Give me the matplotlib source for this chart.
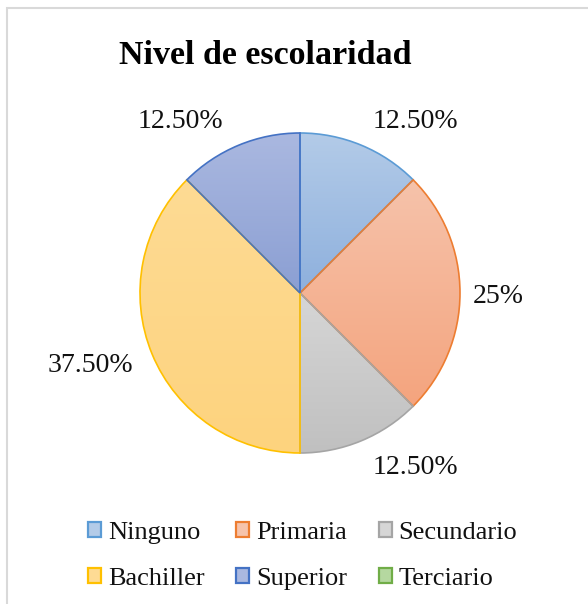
import numpy as np
import matplotlib
matplotlib.use('Agg')
from matplotlib import pyplot as plt
from matplotlib.patches import Patch, Rectangle
from matplotlib.colors import LinearSegmentedColormap

plt.rcParams['font.family'] = ['Liberation Serif', 'DejaVu Serif']

# data
categories = ['Ninguno', 'Primaria', 'Secundario', 'Bachiller', 'Superior', 'Terciario']
values = [12.5, 25, 12.5, 37.5, 12.5, 0]
value_labels = ['12.50%', '25%', '12.50%', '37.50%', '12.50%', '']

# styles (light top, darker bottom, outline)
grad_top = ['#b3cbe8', '#f6c3ab', '#d6d6d6', '#fedb94', '#aab8e0', '#b5d8a0']
grad_bot = ['#8eb0dd', '#f4a47e', '#c0c0c0', '#fdd37e', '#8b9fd3', '#9ccb80']
edges = ['#5b9bd5', '#ed7d31', '#a5a5a5', '#ffc000', '#4472c4', '#70ad47']

# where the value labels sit (pie radius = 1)
label_xy = [(0.72, 1.075), (1.24, -0.02), (0.72, -1.09), (-1.31, -0.45), (-0.75, 1.075), (0, 0)]

W, H, R = 588, 604, 160
cx, cy = 300, 604 - 293

fig = plt.figure(figsize=(W / 100, H / 100), dpi=100)
ax = fig.add_axes([0, 0, 1, 1])
ax.axis('off')

wedges, _ = ax.pie(values, startangle=90, counterclock=False, radius=1,
                   wedgeprops=dict(linewidth=1.2))

grad = np.linspace(0, 1, 256).reshape(-1, 1)
for i, w in enumerate(wedges):
    if values[i] == 0:
        w.set_visible(False)
        continue
    w.set_facecolor('none')
    w.set_edgecolor(edges[i])
    w.set_zorder(3)
    bb = w.get_path().get_extents(w.get_patch_transform())
    cmap = LinearSegmentedColormap.from_list('g%d' % i, [grad_top[i], grad_bot[i]])
    im = ax.imshow(grad, cmap=cmap, aspect='auto', origin='upper',
                   extent=(bb.x0, bb.x1, bb.y0, bb.y1), zorder=2)
    im.set_clip_path(w)
    if value_labels[i]:
        ax.text(label_xy[i][0], label_xy[i][1], value_labels[i], fontsize=20,
                ha='center', va='center', color='#111111')

ax.set_xlim(-cx / R, (W - cx) / R)
ax.set_ylim(-cy / R, (H - cy) / R)

fig.text(265 / W, 1 - 64 / H, 'Nivel de escolaridad', fontsize=24.5,
         fontweight='bold', ha='center', va='baseline', color='black')

# legend, filled column by column so rows read left to right
handles = [Patch(facecolor=grad_top[i], edgecolor=edges[i], linewidth=1.6)
           for i in range(len(categories))]
order = [0, 3, 1, 4, 2, 5]
fig.legend([handles[i] for i in order], [categories[i] for i in order],
           ncol=3, loc='upper left', bbox_to_anchor=(88 / W, 1 - 522 / H),
           frameon=False, fontsize=19, handlelength=0.5, handleheight=0.5,
           handletextpad=0.25, columnspacing=1.2, labelspacing=0.9,
           borderpad=0, borderaxespad=0, labelcolor='#111111')

# chart border (top and left only visible)
fig.add_artist(Rectangle((7 / W, -0.1), 2, 1.1 - 8 / H, transform=fig.transFigure,
                         fill=False, edgecolor='#d9d9d9', linewidth=1.5))

fig.savefig('out.png', dpi=100)
